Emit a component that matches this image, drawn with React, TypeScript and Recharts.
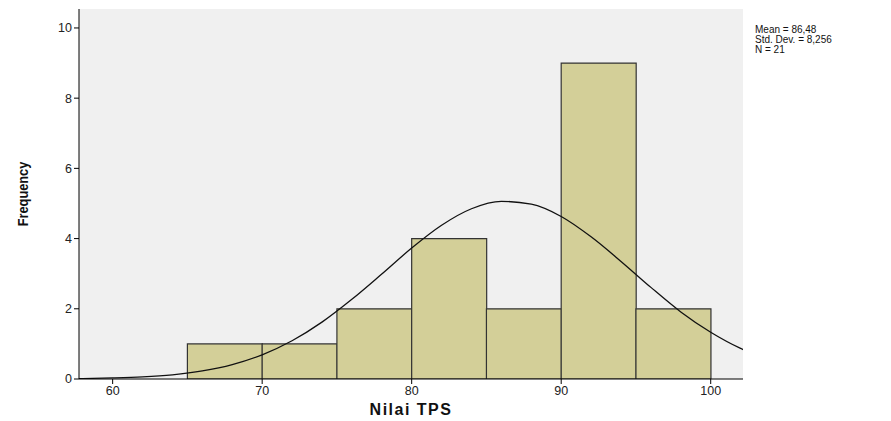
import { ComposedChart, Bar, Line, XAxis, YAxis, CartesianGrid } from 'recharts';

// histogram bins (lower edge of each 5-point bin) and their frequencies
const binStarts = [65, 70, 75, 80, 85, 90, 95];
const binCounts = [1, 1, 2, 4, 2, 9, 2];
const binWidth = 5;

// fitted normal curve
const curveX = [57, 58, 60, 62, 64, 66, 68, 70, 72, 74, 76, 78, 80, 82, 84, 86, 88, 90, 92, 94, 96, 98, 100, 102, 103];
const curveY = [0.01, 0.013, 0.03, 0.06, 0.12, 0.23, 0.41, 0.69, 1.09, 1.62, 2.27, 2.99, 3.73, 4.38, 4.85, 5.06, 4.98, 4.63, 4.05, 3.35, 2.61, 1.91, 1.33, 0.87, 0.69];

const xTicks = [60, 70, 80, 90, 100];
const yTicks = [0, 2, 4, 6, 8, 10];
const statsLines = ['Mean = 86,48', 'Std. Dev. = 8,256', 'N = 21'];

const binData = binStarts.map((s, i) => ({ mid: s + binWidth / 2, count: binCounts[i] }));
const curveData = curveX.map((x, i) => ({ x, y: curveY[i] }));

const X_DOMAIN: [number, number] = [57.75, 102.16];
const Y_DOMAIN: [number, number] = [0, 10.54];
const font = "'Liberation Sans', Arial, sans-serif";
const tickStyle = { fill: '#222', fontSize: 12.5, fontFamily: font };

export default function App() {
  return (
    <div style={{ position: 'absolute', left: 0, top: 0, width: 891, height: 421, background: '#fff' }}>
      <ComposedChart
        width={891}
        height={421}
        data={binData}
        margin={{ top: 9, right: 148, bottom: 12, left: 39 }}
        barCategoryGap={0}
        barGap={0}
      >
        <CartesianGrid horizontal={false} vertical={false} fill="#f0f0f0" />
        <XAxis
          xAxisId="main"
          dataKey="x"
          type="number"
          domain={X_DOMAIN}
          allowDataOverflow
          ticks={xTicks}
          height={30}
          tick={tickStyle}
          tickSize={5}
          axisLine={{ stroke: '#000' }}
          tickLine={{ stroke: '#000' }}
        />
        <XAxis
          xAxisId="top"
          orientation="top"
          type="number"
          domain={X_DOMAIN}
          allowDataOverflow
          tick={false}
          tickLine={false}
          height={0}
          axisLine={{ stroke: '#666' }}
        />
        <XAxis
          xAxisId="bins"
          orientation="top"
          dataKey="mid"
          type="number"
          domain={X_DOMAIN}
          allowDataOverflow
          height={0}
          hide
        />
        <YAxis
          domain={Y_DOMAIN}
          allowDataOverflow
          ticks={yTicks}
          width={40}
          tick={tickStyle}
          tickSize={5}
          axisLine={{ stroke: '#000' }}
          tickLine={{ stroke: '#000' }}
        />
        <YAxis
          yAxisId="right"
          orientation="right"
          domain={Y_DOMAIN}
          tick={false}
          tickLine={false}
          width={0}
          axisLine={{ stroke: '#666' }}
        />
        <Bar
          xAxisId="bins"
          dataKey="count"
          fill="#d3cf98"
          stroke="#333"
          strokeWidth={1.2}
          isAnimationActive={false}
        />
        <Line
          xAxisId="main"
          data={curveData}
          dataKey="y"
          type="monotone"
          stroke="#111"
          strokeWidth={1.3}
          dot={false}
          activeDot={false}
          isAnimationActive={false}
        />
      </ComposedChart>
      <div
        style={{
          position: 'absolute',
          left: 755,
          top: 25,
          fontFamily: font,
          fontSize: 10,
          lineHeight: '10px',
          color: '#111',
        }}
      >
        {statsLines.map((t) => (
          <div key={t}>{t}</div>
        ))}
      </div>
      <div
        style={{
          position: 'absolute',
          left: 22,
          top: 194,
          transform: 'translate(-50%, -50%) rotate(-90deg) scaleX(0.85)',
          fontFamily: font,
          fontWeight: 'bold',
          fontSize: 15,
          whiteSpace: 'nowrap',
          color: '#111',
        }}
      >
        Frequency
      </div>
      <div
        style={{
          position: 'absolute',
          left: 411,
          top: 410,
          transform: 'translate(-50%, -50%)',
          fontFamily: font,
          fontWeight: 'bold',
          fontSize: 16,
          letterSpacing: 1.5,
          whiteSpace: 'nowrap',
          color: '#111',
        }}
      >
        Nilai TPS
      </div>
    </div>
  );
}
